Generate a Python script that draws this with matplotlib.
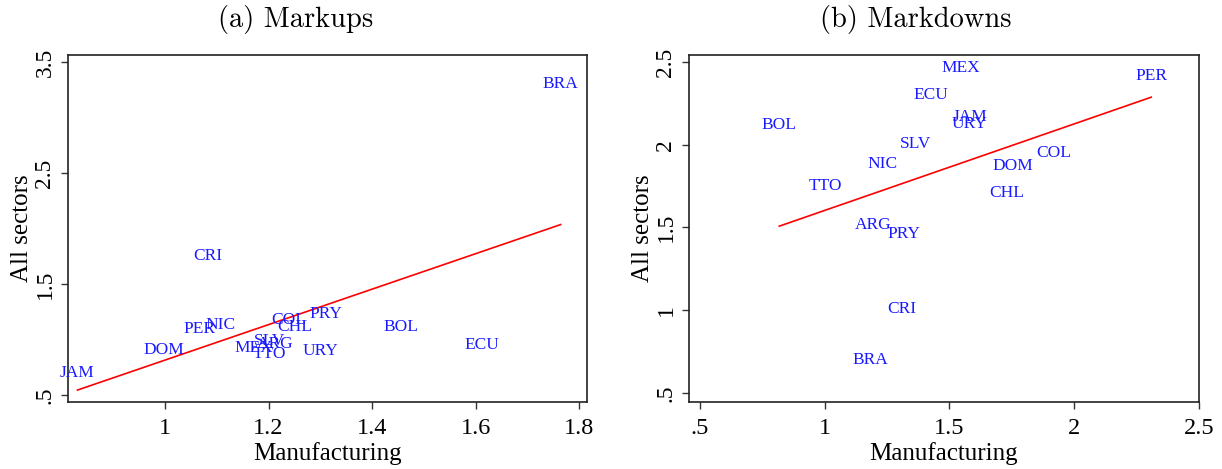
import matplotlib
matplotlib.use("Agg")
import matplotlib.pyplot as plt
import numpy as np

# panel (a): markups, manufacturing vs all sectors
mk_countries = ["BRA", "CRI", "JAM", "DOM", "PER", "NIC", "COL", "CHL",
                "PRY", "BOL", "ECU", "URY", "MEX", "SLV", "ARG", "TTO"]
mk_manuf = [1.764, 1.082, 0.831, 0.998, 1.067, 1.108, 1.239, 1.250,
            1.311, 1.455, 1.611, 1.301, 1.172, 1.201, 1.213, 1.201]
mk_all = [3.301, 1.754, 0.696, 0.908, 1.095, 1.128, 1.180, 1.113,
          1.234, 1.110, 0.953, 0.899, 0.923, 0.983, 0.959, 0.872]

# panel (b): markdowns
md_countries = ["MEX", "PER", "ECU", "JAM", "URY", "BOL", "SLV", "COL",
                "NIC", "DOM", "TTO", "CHL", "ARG", "PRY", "CRI", "BRA"]
md_manuf = [1.546, 2.309, 1.425, 1.582, 1.579, 0.818, 1.364, 1.916,
            1.233, 1.755, 1.004, 1.731, 1.195, 1.316, 1.311, 1.182]
md_all = [2.464, 2.417, 2.299, 2.168, 2.127, 2.117, 2.005, 1.950,
          1.884, 1.870, 1.749, 1.708, 1.515, 1.461, 1.010, 0.701]

mk_xticks = [1, 1.2, 1.4, 1.6, 1.8]
mk_xlabels = ["1", "1.2", "1.4", "1.6", "1.8"]
mk_yticks = [0.5, 1.5, 2.5, 3.5]
mk_ylabels = [".5", "1.5", "2.5", "3.5"]
md_ticks = [0.5, 1, 1.5, 2, 2.5]
md_labels = [".5", "1", "1.5", "2", "2.5"]

SERIF = "Liberation Serif"


def panel(ax, names, x, y, xticks, xlabels, yticks, ylabels, xlim, ylim):
    x = np.array(x)
    y = np.array(y)
    for n, xi, yi in zip(names, x, y):
        ax.text(xi, yi, n, color="#1a1aff", ha="center", va="center",
                fontsize=12.5, family=SERIF)
    # linear fit over the range of x
    b, a = np.polyfit(x, y, 1)
    xs = np.array([x.min(), x.max()])
    ax.plot(xs, a + b * xs, color="red", lw=1.2)
    ax.set_xlim(*xlim)
    ax.set_ylim(*ylim)
    ax.set_xticks(xticks)
    ax.set_xticklabels(xlabels, family=SERIF, fontsize=17.5)
    ax.set_yticks(yticks)
    ax.set_yticklabels(ylabels, family=SERIF, fontsize=17, rotation=90, va="center")
    ax.tick_params(direction="out", length=5, width=1, color="#333333", pad=4)
    ax.tick_params(axis="x", pad=6.5)
    for s in ax.spines.values():
        s.set_linewidth(1.2)
        s.set_color("#222222")
    ax.set_xlabel("Manufacturing", family=SERIF, fontsize=18, labelpad=2)
    ax.set_ylabel("All sectors", family=SERIF, fontsize=18, labelpad=1)


fig = plt.figure(figsize=(12.22, 4.69), dpi=100)
ax1 = fig.add_axes([0.0556, 0.1429, 0.4248, 0.7399])
ax2 = fig.add_axes([0.5638, 0.1429, 0.4173, 0.7399])

panel(ax1, mk_countries, mk_manuf, mk_all,
      mk_xticks, mk_xlabels, mk_yticks, mk_ylabels, (0.8126, 1.815), (0.437, 3.563))
panel(ax2, md_countries, md_manuf, md_all,
      md_ticks, md_labels, md_ticks, md_labels, (0.456, 2.5), (0.446, 2.542))

fig.text(296 / 1222, 1 - 19 / 469, "(a) Markups", family="cmr10", fontsize=20.5,
         ha="center", va="center")
fig.text(916 / 1222, 1 - 19 / 469, "(b) Markdowns", family="cmr10", fontsize=20.5,
         ha="center", va="center")

fig.savefig("out.png", dpi=100)
